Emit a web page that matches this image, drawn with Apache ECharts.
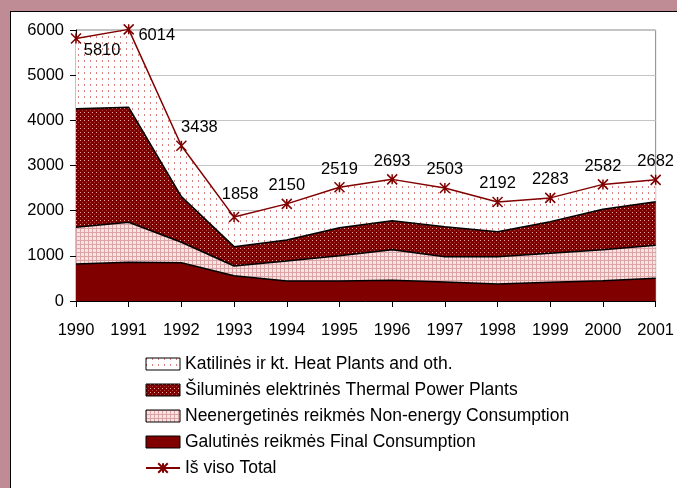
<!DOCTYPE html>
<html>
<head>
<meta charset="utf-8">
<script src="https://cdn.jsdelivr.net/npm/echarts@6/dist/echarts.min.js"></script>
<style>
html, body { margin: 0; padding: 0; overflow: hidden; background: #bf8b94; }
#frame { position: absolute; left: 10px; top: 11px; width: 700px; height: 500px; background: #fff; border-left: 1.5px solid #000; border-top: 1.5px solid #000; }
#myChart { position: absolute; left: 0; top: 0; width: 677px; height: 488px; }
</style>
</head>
<body>
<div id="frame"></div>
<div id="myChart"></div>
<script>
// metai
const years = ['1990', '1991', '1992', '1993', '1994', '1995', '1996', '1997', '1998', '1999', '2000', '2001']
// sluoksniai (nuo apačios)
const finalCons = [820, 856, 848, 560, 443, 443, 458, 420, 376, 413, 450, 502]
const nonEnergy = [811, 886, 452, 215, 443, 560, 678, 561, 605, 642, 686, 731]
const thermal = [2627, 2546, 1010, 428, 464, 620, 642, 664, 554, 702, 894, 966]
const heatPlants = [1552, 1726, 1128, 655, 800, 896, 915, 858, 657, 526, 552, 483]
const total = [5810, 6014, 3438, 1858, 2150, 2519, 2693, 2503, 2192, 2283, 2582, 2682]

const names = {
  heat: 'Katilinės ir kt. Heat Plants and oth.',
  thermal: 'Šiluminės elektrinės Thermal Power Plants',
  nonEnergy: 'Neenergetinės reikmės Non-energy Consumption',
  final: 'Galutinės reikmės Final Consumption',
  total: 'Iš viso Total'
}

function makePattern(w, h, bg, draw) {
  const c = document.createElement('canvas')
  c.width = w
  c.height = h
  const ctx = c.getContext('2d')
  ctx.fillStyle = bg
  ctx.fillRect(0, 0, w, h)
  draw(ctx)
  return { image: c, repeat: 'repeat' }
}

const heatFill = makePattern(6, 6, '#ffffff', function(ctx) {
  ctx.fillStyle = '#d88080'
  ctx.fillRect(0, 0, 1, 2)
})
const thermalFill = makePattern(4, 4, '#800000', function(ctx) {
  ctx.fillStyle = '#e0a8a8'
  ctx.fillRect(0, 0, 1, 1)
  ctx.fillStyle = '#a04040'
  ctx.fillRect(2, 2, 1, 1)
})
const nonEnergyFill = makePattern(4, 4, '#f6e4e4', function(ctx) {
  ctx.fillStyle = '#dca4a4'
  ctx.fillRect(0, 0, 4, 1)
  ctx.fillRect(0, 0, 1, 4)
})

const font = 'Liberation Sans, Arial, sans-serif'
const star = 'path://M0,0L10,10M10,0L0,10M5,0L5,10'

const myChart = echarts.init(document.getElementById('myChart'))

function areaSeries(name, data, fill, z) {
  return {
    name: name,
    type: 'line',
    stack: 'total',
    data: data,
    symbol: 'none',
    z: z,
    lineStyle: { color: '#000', width: 1.5 },
    itemStyle: { color: '#800000' },
    areaStyle: { color: fill, opacity: 1 }
  }
}

const heatSeries = areaSeries(names.heat, heatPlants, heatFill, 2)
heatSeries.lineStyle = { width: 0, color: '#800000' }

// etikečių poslinkiai kaip originale
const totalLabels = total.map(function(v, i) {
  if (i === 0) return { value: v, label: { position: 'right', distance: 5, offset: [-3, 12] } }
  if (i === 1) return { value: v, label: { position: 'right', distance: 7, offset: [-3, 6] } }
  if (i === 2) return { value: v, label: { offset: [18, 0] } }
  if (i === 3) return { value: v, label: { offset: [6, -4] } }
  return v
})

const option = {
  animation: false,
  grid: {
    left: 76, right: 18, top: 30, bottom: 187,
    show: true, borderColor: '#888', borderWidth: 1, backgroundColor: '#fff'
  },
  legend: {
    orient: 'vertical',
    left: 145,
    top: 355,
    padding: 0,
    itemWidth: 34,
    itemHeight: 12,
    itemGap: 8,
    textStyle: { fontSize: 17.5, color: '#000', fontFamily: font, lineHeight: 16 },
    data: [
      { name: names.heat, icon: 'rect', itemStyle: { color: heatFill, borderColor: '#000', borderWidth: 1 } },
      { name: names.thermal, icon: 'rect', itemStyle: { color: thermalFill, borderColor: '#000', borderWidth: 1 } },
      { name: names.nonEnergy, icon: 'rect', itemStyle: { color: nonEnergyFill, borderColor: '#000', borderWidth: 1 } },
      { name: names.final, icon: 'rect', itemStyle: { color: '#800000', borderColor: '#000', borderWidth: 1 } },
      { name: names.total }
    ]
  },
  xAxis: {
    type: 'category',
    boundaryGap: false,
    data: years,
    axisLine: { lineStyle: { color: '#000', width: 1 } },
    axisTick: { show: true, inside: false, length: 6, interval: 0, lineStyle: { color: '#000' } },
    axisLabel: { interval: 0, margin: 21, fontSize: 16.5, color: '#000', fontFamily: font }
  },
  yAxis: {
    type: 'value',
    min: 0,
    max: 6000,
    interval: 1000,
    axisLine: { show: true, lineStyle: { color: '#000', width: 1 } },
    axisTick: { show: true, length: 6, lineStyle: { color: '#000' } },
    axisLabel: { margin: 12, fontSize: 16.5, color: '#000', fontFamily: font, formatter: function(v) { return String(v) } },
    splitLine: { lineStyle: { color: '#c4c4c4', width: 1 } }
  },
  series: [
    areaSeries(names.final, finalCons, '#800000', 5),
    areaSeries(names.nonEnergy, nonEnergy, nonEnergyFill, 4),
    areaSeries(names.thermal, thermal, thermalFill, 3),
    heatSeries,
    {
      name: names.total,
      type: 'line',
      data: totalLabels,
      z: 10,
      clip: false,
      symbol: star,
      symbolSize: 10,
      lineStyle: { color: '#800000', width: 1.5 },
      itemStyle: { color: '#800000', borderColor: '#800000', borderWidth: 1.5 },
      label: {
        show: true,
        position: 'top',
        distance: 4,
        fontSize: 16.5,
        color: '#000',
        fontFamily: font
      }
    }
  ]
}
myChart.setOption(option)
</script>
</body>
</html>
